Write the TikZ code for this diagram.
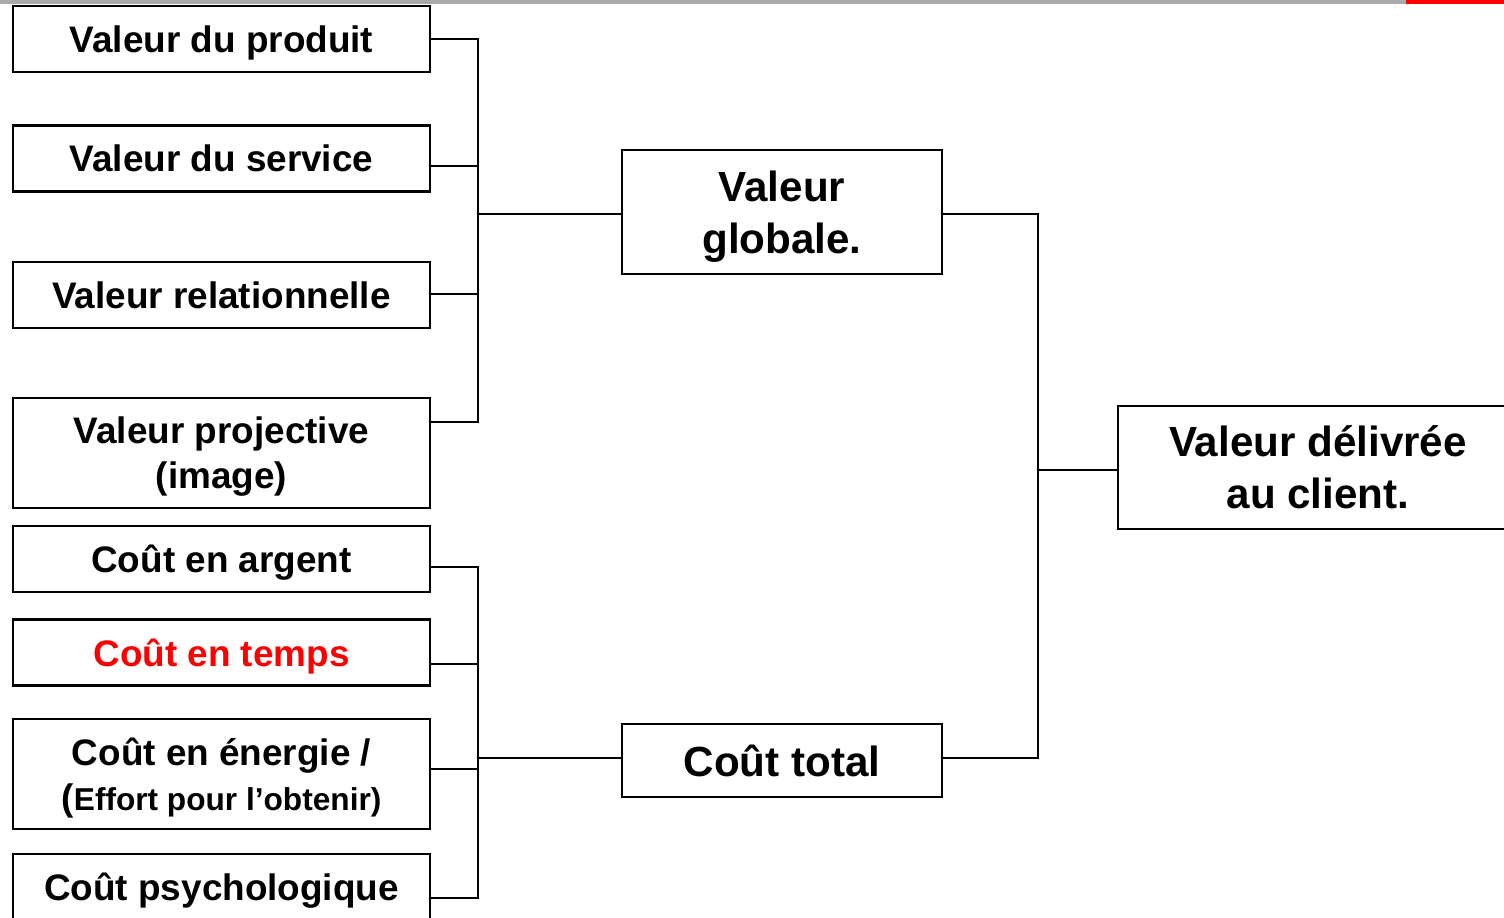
\documentclass[tikz,border=0pt]{standalone}
\usepackage{fontspec}
\setmainfont{Liberation Sans}
\usepackage{xcolor}
\definecolor{barGray}{HTML}{A9A9A9}
\definecolor{alertRed}{HTML}{FF0000}
\usetikzlibrary{positioning, calc}

\begin{document}
\begin{tikzpicture}[
  item/.style={draw, line width=0.6pt, minimum width=4.17cm, minimum height=0.66cm,
    align=center, inner sep=0pt, text depth=0pt, font=\fontsize{10.5}{12.8}\selectfont\bfseries},
  total/.style={draw, line width=0.6pt, minimum width=3.2cm, align=center,
    inner sep=0pt, text depth=0pt, font=\fontsize{12}{14.8}\selectfont\bfseries},
  link/.style={line width=0.6pt}
]
  \useasboundingbox (0,0) rectangle (15.04,-9.17);

  % Top strip
  \fill[barGray] (0,0) rectangle (14.06,-0.035);
  \fill[alertRed] (14.06,0) rectangle (15.04,-0.035);

  % Value items
  \node[item] (vprod) at (2.215,-0.39) {Valeur du produit};
  \node[item] (vserv) at (2.215,-1.585) {Valeur du service};
  \node[item] (vrel)  at (2.215,-2.95) {Valeur relationnelle};
  \node[item, minimum height=1.10cm] (vproj) at (2.215,-4.53) {Valeur projective\\(image)};

  % Cost items
  \node[item] (cargent) at (2.215,-5.59) {Coût en argent};
  \node[item, text=alertRed] (ctemps) at (2.215,-6.525) {Coût en temps};
  \node[item, minimum height=1.10cm, font=\fontsize{10.5}{12.8}\selectfont\bfseries] (cenergie) at (2.215,-7.74)
    {Coût en énergie /\\(\fontsize{9}{12.8}\selectfont Effort pour l’obtenir)};
  \node[item] (cpsy) at (2.215,-8.87) {Coût psychologique};

  % Totals
  \node[total, minimum height=1.24cm, text depth=-0.4pt] (vglob) at (7.82,-2.12) {Valeur\\globale.};
  \node[total, minimum height=0.73cm] (ctot) at (7.82,-7.605) {Coût total};
  \node[total, minimum width=4.0cm, minimum height=1.23cm, text depth=-1.6pt] (vdeliv) at (13.18,-4.675) {Valeur délivrée\\au client.};

  % Value bus
  \coordinate (v1) at (4.78,-0.39);
  \coordinate (v2) at (4.78,-1.66);
  \coordinate (v3) at (4.78,-2.94);
  \coordinate (v4) at (4.78,-4.22);
  \coordinate (vbus) at (4.78,-2.14);
  \draw[link] (v1 -| vprod.east) -- (v1) -- (v4) -- (v4 -| vproj.east);
  \draw[link] (v2 -| vserv.east) -- (v2);
  \draw[link] (v3 -| vrel.east) -- (v3);
  \draw[link] (vbus) -- (vbus -| vglob.west);

  % Cost bus
  \coordinate (c1) at (4.78,-5.67);
  \coordinate (c2) at (4.78,-6.64);
  \coordinate (c3) at (4.78,-7.69);
  \coordinate (c4) at (4.78,-8.98);
  \coordinate (cbus) at (4.78,-7.58);
  \draw[link] (c1 -| cargent.east) -- (c1) -- (c4) -- (c4 -| cpsy.east);
  \draw[link] (c2 -| ctemps.east) -- (c2);
  \draw[link] (c3 -| cenergie.east) -- (c3);
  \draw[link] (cbus) -- (cbus -| ctot.west);

  % Right bus
  \coordinate (r1) at (10.38,-2.14);
  \coordinate (r2) at (10.38,-7.58);
  \coordinate (rmid) at (10.38,-4.70);
  \draw[link] (r1 -| vglob.east) -- (r1) -- (r2) -- (r2 -| ctot.east);
  \draw[link] (rmid) -- (rmid -| vdeliv.west);
\end{tikzpicture}
\end{document}
